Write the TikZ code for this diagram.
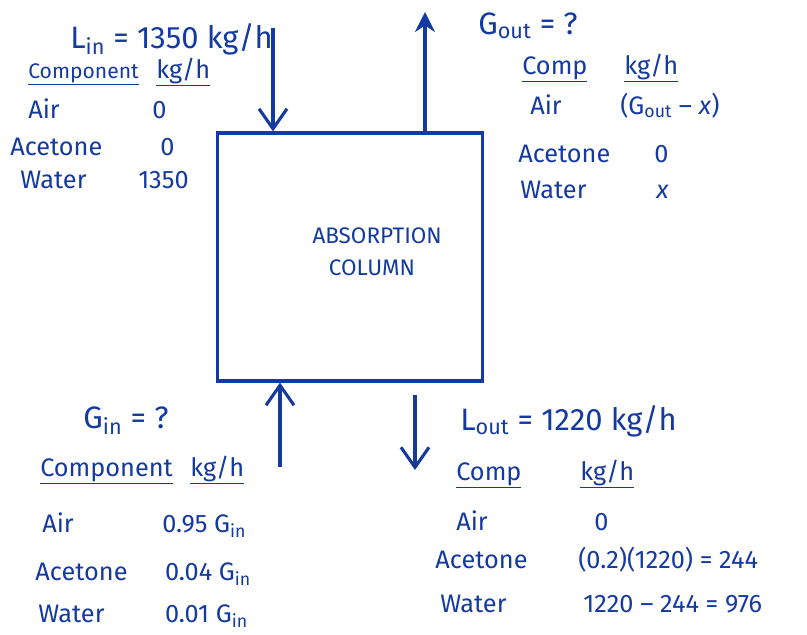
\documentclass[tikz,border=0pt]{standalone}
\usepackage{fontspec}
\setmainfont{Fira Sans}
\usepackage{xcolor}
\usepackage{tikz}
\usetikzlibrary{arrows.meta,positioning,calc}
\definecolor{ink}{RGB}{20,58,160}
\tikzset{
    column/.style={rectangle, draw=ink, line width=2.2pt, minimum width=6.625cm, minimum height=6.2cm, inner sep=0},
    title/.style={anchor=base west, text=ink, font=\fontsize{22}{26}\selectfont, inner sep=0},
    entry/.style={anchor=base west, text=ink, font=\fontsize{18}{21}\selectfont, inner sep=0},
    inside/.style={text=ink, font=\fontsize{16}{19}\selectfont, inner sep=0},
    stream/.style={draw=ink, line width=2.2pt, -{Straight Barb[length=5mm,width=7mm,line width=2.2pt]}},
    outstream/.style={draw=ink, line width=2.2pt, -{Stealth[length=5mm,width=5mm]}},
}

\begin{document}
\begin{tikzpicture}
    \useasboundingbox (0,0) rectangle (20.175,-15.875);
    \node[column] (col) at (8.76,-6.425) {};
    \node[inside] (colname1) at (9.43,-5.9) {ABSORPTION};
    \node[inside] (colname2) at (9.3,-6.7) {COLUMN};

    % liquid in
    \node[title] (lin) at (1.75,-1.2) {L$_{\mathrm{in}}$ = 1350 kg/h};
    \node[entry, font=\fontsize{15}{18}\selectfont] (linhd) at (0.7,-1.95) {\underline{Component}};
    \node[entry] (linhdu) at (3.9,-1.95) {\underline{kg/h}};
    \node[entry] (linair) at (0.7,-2.95) {Air};
    \node[entry] (linairv) at (3.8,-2.95) {0};
    \node[entry] (linace) at (0.25,-3.875) {Acetone};
    \node[entry] (linacev) at (4.0,-3.875) {0};
    \node[entry] (linwat) at (0.5,-4.7) {Water};
    \node[entry] (linwatv) at (3.45,-4.7) {1350};

    % gas out
    \node[title] (gout) at (11.95,-0.85) {G$_{\mathrm{out}}$ = ?};
    \node[entry] (gouthd) at (13.05,-1.85) {\underline{Comp}};
    \node[entry] (gouthdu) at (15.6,-1.85) {\underline{kg/h}};
    \node[entry] (goutair) at (13.25,-2.85) {Air};
    \node[entry] (goutairv) at (15.5,-2.85) {(G$_{\mathrm{out}}$ – \textit{x})};
    \node[entry] (goutace) at (12.95,-4.05) {Acetone};
    \node[entry] (goutacev) at (16.35,-4.05) {0};
    \node[entry] (goutwat) at (13.0,-4.95) {Water};
    \node[entry] (goutwatv) at (16.4,-4.95) {\textit{x}};

    % gas in
    \node[title] (gin) at (2.08,-10.7) {G$_{\mathrm{in}}$ = ?};
    \node[entry] (ginhd) at (1.0,-11.9) {\underline{Component}};
    \node[entry] (ginhdu) at (4.75,-11.9) {\underline{kg/h}};
    \node[entry] (ginair) at (1.05,-13.3) {Air};
    \node[entry] (ginairv) at (4.05,-13.3) {0.95 G$_{\mathrm{in}}$};
    \node[entry] (ginace) at (0.88,-14.5) {Acetone};
    \node[entry] (ginacev) at (4.12,-14.5) {0.04 G$_{\mathrm{in}}$};
    \node[entry] (ginwat) at (0.95,-15.55) {Water};
    \node[entry] (ginwatv) at (4.12,-15.55) {0.01 G$_{\mathrm{in}}$};

    % liquid out
    \node[title] (lout) at (11.5,-10.75) {L$_{\mathrm{out}}$ = 1220 kg/h};
    \node[entry] (louthd) at (11.4,-12.0) {\underline{Comp}};
    \node[entry] (louthdu) at (14.5,-12.0) {\underline{kg/h}};
    \node[entry] (loutair) at (11.4,-13.25) {Air};
    \node[entry] (loutairv) at (14.85,-13.25) {0};
    \node[entry] (loutace) at (10.88,-14.2) {Acetone};
    \node[entry] (loutacev) at (14.45,-14.2) {(0.2)(1220) = 244};
    \node[entry] (loutwat) at (11.0,-15.3) {Water};
    \node[entry] (loutwatv) at (14.58,-15.3) {1220 – 244 = 976};

    \coordinate (linsrc) at (6.825,-0.7);
    \coordinate (goutend) at (10.625,-0.3);
    \coordinate (ginsrc) at (7.0,-11.675);
    \coordinate (loutsrc) at (10.375,-9.875);
    \coordinate (loutend) at (10.375,-11.75);

    \draw[stream] (linsrc) -- (linsrc |- col.north);
    \draw[outstream] (goutend |- col.north) -- (goutend);
    \draw[stream] (ginsrc) -- (ginsrc |- col.south);
    \draw[stream] (loutsrc) -- (loutend);
\end{tikzpicture}
\end{document}
